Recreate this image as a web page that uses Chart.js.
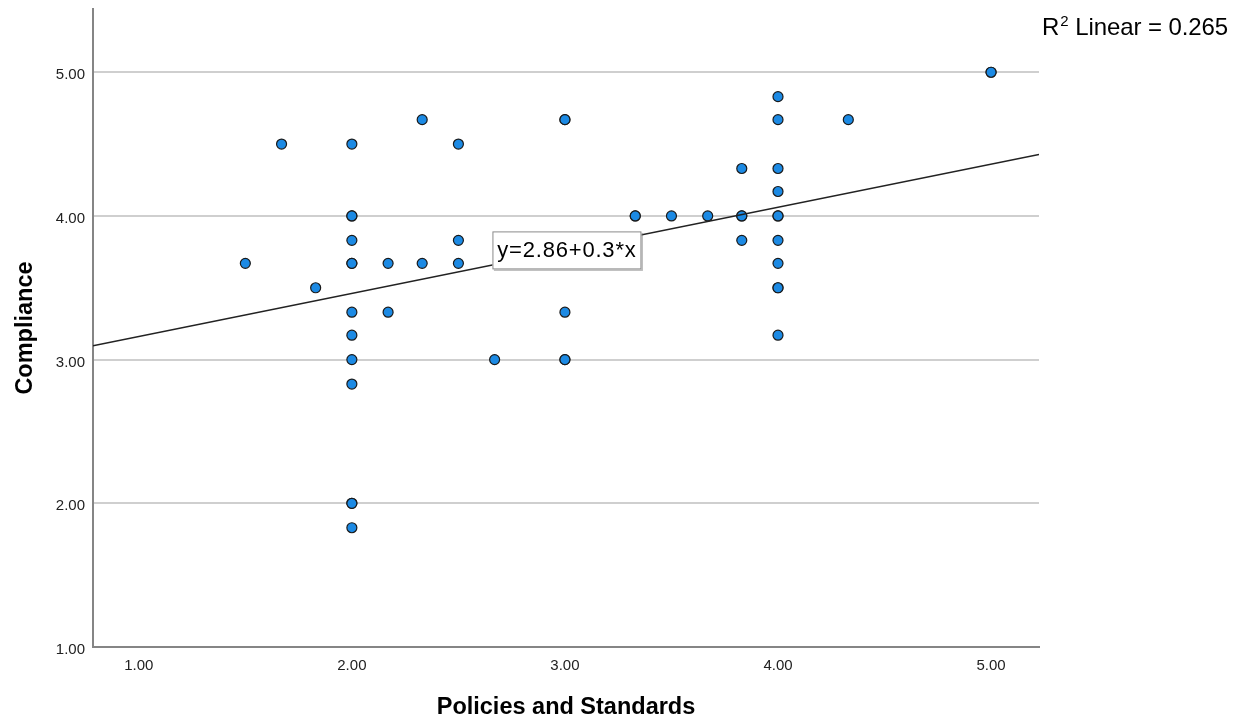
<!DOCTYPE html>
<html>
<head>
<meta charset="utf-8">
<script src="https://cdn.jsdelivr.net/npm/chart.js@4/dist/chart.umd.min.js"></script>
<style>
  body { margin: 0; background: #fff; }
</style>
</head>
<body>
<canvas id="myChart" width="1242" height="719"></canvas>
<script>
// points (x = Policies and Standards, y = Compliance)
const xValues = [1.5, 1.67, 1.83,
  2, 2, 2, 2, 2, 2, 2, 2, 2, 2, 2, 2, 2,
  2.17, 2.17, 2.33, 2.33, 2.5, 2.5, 2.5, 2.67,
  3, 3, 3, 3, 3, 3.33,
  3.33, 3.33, 3.5, 3.67, 3.83, 3.83, 3.83, 3.83,
  4, 4, 4, 4, 4, 4, 4, 4, 4, 4, 4,
  4.33, 5, 5];
const yValues = [3.67, 4.5, 3.5,
  4.5, 4, 4, 3.83, 3.67, 3.67, 3.33, 3.17, 3, 2.83, 2, 2, 1.83,
  3.67, 3.33, 4.67, 3.67, 4.5, 3.83, 3.67, 3,
  4.67, 4.67, 3.33, 3, 3, 3.67,
  4, 4, 4, 4, 4.33, 4, 4, 3.83,
  4.83, 4.67, 4.33, 4.17, 4, 4, 3.83, 3.67, 3.5, 3.5, 3.17,
  4.67, 5, 5];

const xTicks = [1, 2, 3, 4, 5];
const yTicks = [1, 2, 3, 4, 5];
const xRange = [0.785, 5.225];
const yRange = [1, 5.44];

// fit line as printed on the chart
const intercept = 2.86;
const slope = 0.3;
const rSquared = 0.265;
const eqAnchor = [3.0, 3.76];

const font = '"Liberation Sans", Arial, sans-serif';

const points = xValues.map((x, i) => ({ x: x, y: yValues[i] }));
const fitLine = xRange.map(x => ({ x: x, y: intercept + slope * x }));

// draws the equation box and the R2 note
const annotations = {
  id: "annotations",
  afterDatasetsDraw(chart) {
    const ctx = chart.ctx;
    const xs = chart.scales.x;
    const ys = chart.scales.y;
    const text = "y=" + intercept + "+" + slope + "*x";
    ctx.save();
    ctx.font = "22px " + font;
    ctx.letterSpacing = "0.8px";
    const w = 149;
    const h = 38;
    const cx = xs.getPixelForValue(eqAnchor[0]) + 2;
    const cy = ys.getPixelForValue(eqAnchor[1]);
    ctx.fillStyle = "rgba(120,120,120,0.5)";
    ctx.fillRect(cx - w / 2 + 1.5, cy - h / 2 + 1.5, w, h);
    ctx.fillStyle = "#fff";
    ctx.fillRect(cx - w / 2, cy - h / 2, w, h);
    ctx.strokeStyle = "#8a8a8a";
    ctx.lineWidth = 1;
    ctx.strokeRect(cx - w / 2 + 0.5, cy - h / 2 + 0.5, w - 1, h - 1);
    ctx.fillStyle = "#000";
    ctx.textAlign = "center";
    ctx.textBaseline = "middle";
    ctx.fillText(text, cx, cy + 1);

    // R2 Linear label top right
    ctx.letterSpacing = "0px";
    ctx.textAlign = "left";
    ctx.textBaseline = "alphabetic";
    ctx.font = "24px " + font;
    let tx = 1042;
    ctx.fillText("R", tx, 35);
    tx += ctx.measureText("R").width + 1;
    ctx.font = "15px " + font;
    ctx.fillText("2", tx, 26);
    tx += ctx.measureText("2").width;
    ctx.font = "24px " + font;
    ctx.letterSpacing = "-0.1px";
    ctx.fillText(" Linear = " + rSquared, tx, 35);
    ctx.restore();
  }
};

const ctx = document.getElementById("myChart").getContext("2d");
new Chart(ctx, {
  type: "scatter",
  data: {
    datasets: [
      {
        type: "line",
        label: "Linear fit",
        data: fitLine,
        borderColor: "#222",
        borderWidth: 1.5,
        pointRadius: 0,
        fill: false
      },
      {
        label: "Compliance",
        data: points,
        backgroundColor: "rgb(28,138,228)",
        borderColor: "#1a1a1a",
        borderWidth: 1.2,
        pointRadius: 5,
        pointHoverRadius: 5
      }
    ]
  },
  options: {
    responsive: false,
    animation: false,
    events: [],
    layout: { padding: { left: 0, top: 9, right: 203, bottom: 0 } },
    plugins: {
      legend: { display: false },
      tooltip: { enabled: false }
    },
    scales: {
      x: {
        type: "linear",
        min: xRange[0],
        max: xRange[1],
        afterBuildTicks: s => { s.ticks = xTicks.map(v => ({ value: v })); },
        afterFit: s => { s.height = 72; s.paddingLeft = 0; s.paddingRight = 0; },
        grid: { display: false, drawTicks: false },
        border: { color: "#858585", width: 2 },
        ticks: {
          padding: 10,
          color: "#222",
          font: { family: font, size: 15 },
          callback: v => v.toFixed(2)
        },
        title: {
          display: true,
          text: "Policies and Standards",
          color: "#000",
          padding: { top: 0, bottom: -3 },
          font: { family: font, size: 23.5, weight: "bold" }
        }
      },
      y: {
        type: "linear",
        min: yRange[0],
        max: yRange[1],
        afterBuildTicks: s => { s.ticks = yTicks.map(v => ({ value: v })); },
        afterFit: s => { s.width = 93; s.paddingTop = 0; s.paddingBottom = 0; },
        grid: {
          drawTicks: false,
          color: c => (c.tick && c.tick.value === yRange[0]) ? "rgba(0,0,0,0)" : "#cfcfcf",
          lineWidth: 2
        },
        border: { color: "#858585", width: 2 },
        ticks: {
          padding: 8,
          labelOffset: 3,
          color: "#222",
          font: { family: font, size: 15 },
          callback: v => v.toFixed(2)
        },
        title: {
          display: true,
          text: "Compliance",
          color: "#000",
          padding: { top: 11, bottom: 0 },
          font: { family: font, size: 23.5, weight: "bold" }
        }
      }
    }
  },
  plugins: [annotations]
});
</script>
</body>
</html>
